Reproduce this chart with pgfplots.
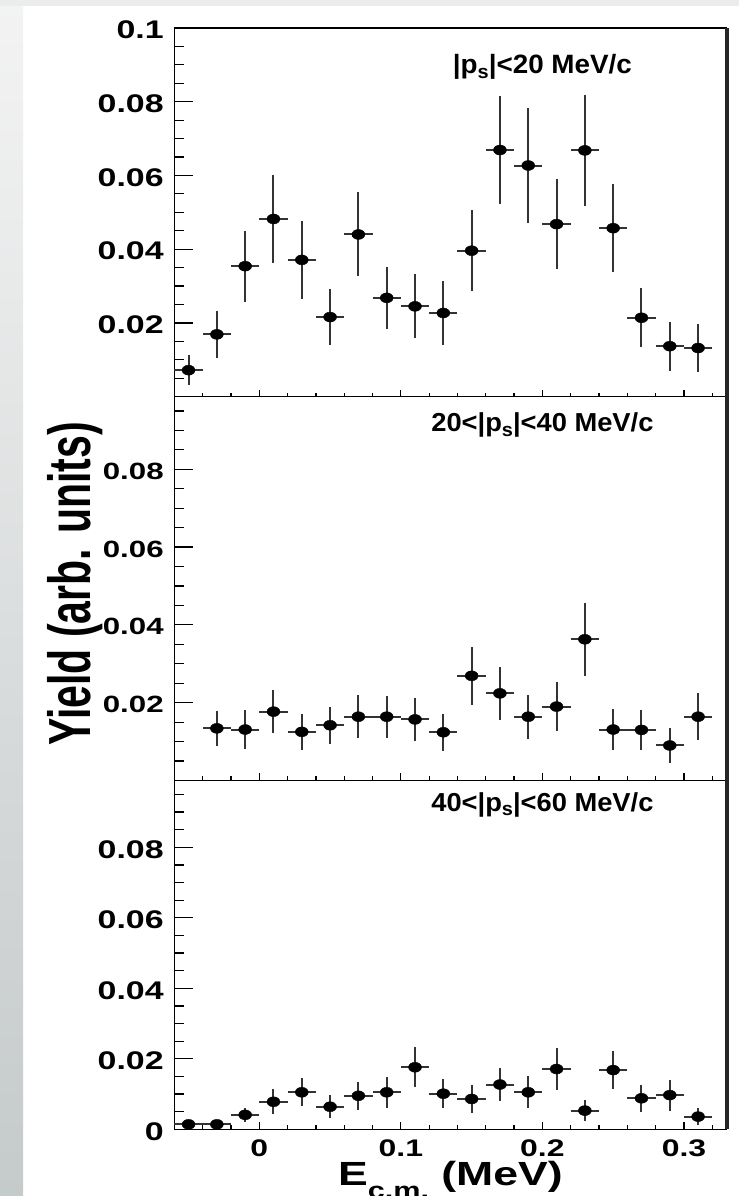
\documentclass[border=0pt]{standalone}
\usepackage{pgfplots}
\usepackage{pgfplotstable}
\pgfplotsset{compat=1.18}
\usepackage{fontspec}
\setmainfont{Liberation Sans}
\usepackage{graphicx}

\newcommand{\sx}[1]{\scalebox{1.33}[1]{#1}}

\pgfplotstableread{
x y ex ey
-0.05 0.0072 0.01 0.0040
-0.03 0.0169 0.01 0.0063
-0.01 0.0354 0.01 0.0096
0.01 0.0482 0.01 0.0120
0.03 0.0371 0.01 0.0105
0.05 0.0216 0.01 0.0076
0.07 0.0440 0.01 0.0114
0.09 0.0268 0.01 0.0085
0.11 0.0245 0.01 0.0087
0.13 0.0227 0.01 0.0086
0.15 0.0396 0.01 0.0110
0.17 0.0669 0.01 0.0146
0.19 0.0627 0.01 0.0156
0.21 0.0468 0.01 0.0123
0.23 0.0668 0.01 0.0150
0.25 0.0457 0.01 0.0120
0.27 0.0214 0.01 0.0080
0.29 0.0137 0.01 0.0066
0.31 0.0132 0.01 0.0065
}\topdata

\pgfplotstableread{
x y ex ey
-0.03 0.0134 0.01 0.0045
-0.01 0.0131 0.01 0.0049
0.01 0.0177 0.01 0.0055
0.03 0.0125 0.01 0.0046
0.05 0.0142 0.01 0.0048
0.07 0.0164 0.01 0.0055
0.09 0.0164 0.01 0.0054
0.11 0.0157 0.01 0.0055
0.13 0.0124 0.01 0.0048
0.15 0.0269 0.01 0.0075
0.17 0.0224 0.01 0.0068
0.19 0.0164 0.01 0.0057
0.21 0.0190 0.01 0.0063
0.23 0.0363 0.01 0.0094
0.25 0.0131 0.01 0.0053
0.27 0.0130 0.01 0.0052
0.29 0.0090 0.01 0.0045
0.31 0.0164 0.01 0.0061
}\middata

\pgfplotstableread{
x y ex ey
-0.05 0.0014 0.01 0.0012
-0.03 0.0014 0.01 0.0012
-0.01 0.0041 0.01 0.0020
0.01 0.0078 0.01 0.0035
0.03 0.0105 0.01 0.0040
0.05 0.0064 0.01 0.0033
0.07 0.0095 0.01 0.0039
0.09 0.0105 0.01 0.0044
0.11 0.0176 0.01 0.0057
0.13 0.0101 0.01 0.0041
0.15 0.0086 0.01 0.0040
0.17 0.0127 0.01 0.0048
0.19 0.0105 0.01 0.0045
0.21 0.0171 0.01 0.0060
0.23 0.0053 0.01 0.0030
0.25 0.0168 0.01 0.0055
0.27 0.0088 0.01 0.0039
0.29 0.0097 0.01 0.0044
0.31 0.0036 0.01 0.0024
}\botdata

\definecolor{stripbot}{RGB}{197,202,203}
\definecolor{striptop}{RGB}{243,243,243}
\definecolor{topband}{RGB}{235,236,236}

\pgfplotsset{
  frame/.style={
    scale only axis, width=552pt, xmin=-0.06, xmax=0.33,
    anchor=south west, clip=false,
    scaled x ticks=false, scaled y ticks=false,
    axis line style={line width=1.4pt, black},
    tick align=inside, xtick pos=left, ytick pos=left,
    every tick/.style={line width=1.2pt, black},
  },
  % y ticks + data
  panel/.style={frame,
    major tick length=18.7pt, minor tick length=9.3pt,
    xtick=\empty,
    minor ytick={0.005,0.01,0.015,0.025,0.03,0.035,0.045,0.05,0.055,0.065,0.07,0.075,0.085,0.09,0.095},
    yticklabel style={font=\bfseries\fontsize{25.5}{25.5}\selectfont, inner sep=0pt, xshift=-10.5pt, yshift=-2pt},
  },
  % x ticks only
  xpanel/.style={frame,
    major tick length=7pt, minor tick length=4pt,
    ytick=\empty,
    xtick={0,0.1,0.2,0.3},
    minor xtick={-0.04,-0.02,0.02,0.04,0.06,0.08,0.12,0.14,0.16,0.18,0.22,0.24,0.26,0.28,0.32},
    xticklabel style={font=\bfseries\fontsize{24}{24}\selectfont, inner sep=0pt, yshift=-10pt},
  },
  pts/.style={only marks, mark=*, mark size=5pt,
    mark options={xscale=1.3, fill=black, draw=black},
    error bars/.cd, x dir=both, x explicit, y dir=both, y explicit,
    error mark=none, error bar style={line width=2pt, black!80}},
}

\newcommand{\sub}[1]{\raisebox{-4.5pt}{\fontsize{19}{19}\selectfont #1}}

\begin{document}
\begin{tikzpicture}
\useasboundingbox (0,0) rectangle (739pt,1196pt);
\fill[white] (0,0) rectangle (739pt,1196pt);
\shade[top color=striptop, bottom color=stripbot] (0,0) rectangle (23pt,1196pt);
\fill[topband] (0,1190.3pt) rectangle (739pt,1196pt);

% ---------- top panel
\begin{axis}[xpanel, at={(174.4pt,799.3pt)}, height=368.7pt,
  ymin=0, ymax=0.1, xticklabels={}]
\end{axis}
\begin{axis}[panel, at={(174.4pt,799.3pt)}, height=368.7pt,
  ymin=0, ymax=0.1,
  ytick={0.02,0.04,0.06,0.08,0.1},
  yticklabels={\sx{0.02},\sx{0.04},\sx{0.06},\sx{0.08},\sx{0.1}}]
\addplot[pts] table[x=x,y=y,x error=ex,y error=ey]{\topdata};
\node[anchor=base, font=\bfseries\fontsize{26.5}{26.5}\selectfont] at (axis cs:0.2,0.0876)
  {\scalebox{1.05}[1]{|p\sub{s}|<20 MeV/c}};
\end{axis}

% ---------- middle panel
\begin{axis}[xpanel, at={(174.4pt,415.5pt)}, height=383.8pt,
  ymin=0, ymax=0.09866, xticklabels={}]
\end{axis}
\begin{axis}[panel, at={(174.4pt,415.5pt)}, height=383.8pt,
  ymin=0, ymax=0.09866,
  ytick={0.02,0.04,0.06,0.08},
  yticklabels={\sx{0.02},\sx{0.04},\sx{0.06},\sx{0.08}},
  yticklabel style={font=\bfseries\fontsize{23.5}{23.5}\selectfont}]
\addplot[pts] table[x=x,y=y,x error=ex,y error=ey]{\middata};
\node[anchor=base, font=\bfseries\fontsize{26}{26}\selectfont] at (axis cs:0.2,0.0897)
  {\scalebox{1.05}[1]{20<|p\sub{s}|<40 MeV/c}};
\end{axis}

% ---------- bottom panel
\begin{axis}[xpanel, at={(174.4pt,66.7pt)}, height=348.6pt,
  ymin=0, ymax=0.0989,
  xticklabels={\sx{0},\sx{0.1},\sx{0.2},\sx{0.3}}]
\node[anchor=base, yshift=-55.7pt, font=\bfseries\fontsize{33.5}{33.5}\selectfont] at (rel axis cs:0.5,0)
  {\sx{E\raisebox{-13.5pt}{\fontsize{23}{23}\selectfont c.m.}\ (MeV)}};
\end{axis}
\begin{axis}[panel, at={(174.4pt,66.7pt)}, height=348.6pt,
  ymin=0, ymax=0.0989,
  ytick={0,0.02,0.04,0.06,0.08},
  yticklabels={\sx{0},\sx{0.02},\sx{0.04},\sx{0.06},\sx{0.08}}]
\addplot[pts] table[x=x,y=y,x error=ex,y error=ey]{\botdata};
\node[anchor=base, font=\bfseries\fontsize{26}{26}\selectfont] at (axis cs:0.2,0.0903)
  {\scalebox{1.05}[1]{40<|p\sub{s}|<60 MeV/c}};
\end{axis}

\draw[line width=4pt, black!85] (727.4pt,66.7pt) -- (727.4pt,1168pt);

\node[rotate=90, anchor=base, font=\bfseries\fontsize{41}{41}\selectfont] at (90pt,612pt)
  {\scalebox{1}[1.45]{Yield (arb. units)}};
\end{tikzpicture}
\end{document}
